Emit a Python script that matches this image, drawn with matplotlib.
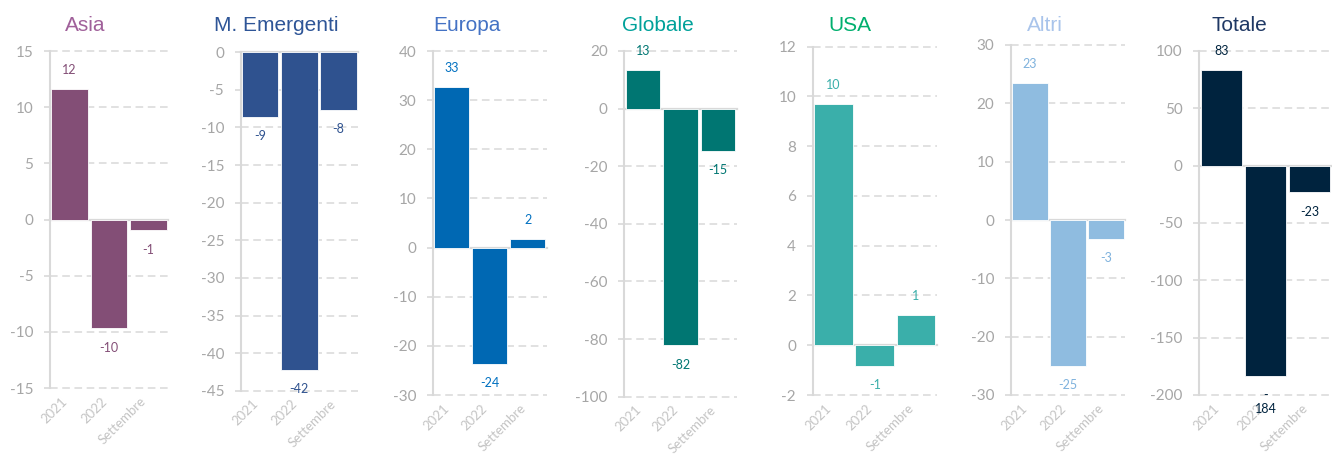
import matplotlib
matplotlib.use("Agg")
import matplotlib.pyplot as plt
import numpy as np

plt.rcParams["axes.unicode_minus"] = False

# data
categories = ["2021", "2022", "Settembre"]
titles = ["Asia", "M. Emergenti", "Europa", "Globale", "USA", "Altri", "Totale"]
asia = [11.6, -9.7, -0.97]
m_emergenti = [-8.6, -42.2, -7.7]
europa = [32.6, -23.7, 1.7]
globale = [13.4, -82.2, -14.6]
usa = [9.7, -0.82, 1.2]
altri = [23.4, -25.0, -3.2]
totale = [83.4, -183.6, -23.4]
series = [asia, m_emergenti, europa, globale, usa, altri, totale]

# y axis (min, max, step) per panel
yscales = [(-15, 15, 5), (-45, 0, 5), (-30, 40, 10), (-100, 20, 20),
           (-2, 12, 2), (-30, 30, 10), (-200, 100, 50)]

bar_colors = ["#834E76", "#2F528F", "#0068B3", "#007672", "#3AAFAA", "#8FBCE0", "#00233E"]
title_colors = ["#A0609A", "#2E5597", "#4472C4", "#00A19A", "#00AF6E", "#A9C4EB", "#1F3864"]
label_colors = ["#834E76", "#2F528F", "#0070C0", "#007672", "#3AAFAA", "#7FB2DD", "#00233E"]

# axes boxes in pixels: left, right, top, bottom
boxes = [(50, 168, 51, 388), (240.7, 358, 52.3, 390.7), (432.7, 546.7, 51, 395),
         (624.3, 736.7, 51, 396.7), (812.7, 936.7, 46.7, 395), (1011, 1125, 45, 395),
         (1199.3, 1331.7, 51, 395)]

W, H = 1332, 461
grid_c = "#D9D9D9"


def fmt(v):
    n = int(np.floor(abs(v) + 0.5))
    s = ("-" if v < 0 else "") + str(n)
    if len(s) > 3:          # excel wraps the long label
        s = "-\n" + str(n)
    return s


fig = plt.figure(figsize=(W / 100, H / 100), dpi=100)

for k in range(len(titles)):
    l, r, t, b = boxes[k]
    ax = fig.add_axes([l / W, 1 - b / H, (r - l) / W, (b - t) / H])
    vals = series[k]
    lo, hi, step = yscales[k]
    x = np.arange(len(categories))

    ax.bar(x, vals, width=0.93, color=bar_colors[k], edgecolor="white", linewidth=0.6, zorder=3)
    ax.set_xlim(-0.5, 2.5)
    ax.set_ylim(lo, hi)
    ticks = np.arange(lo, hi + step / 2, step)
    ax.set_yticks(ticks)
    for tk in ticks:
        if tk != 0:
            ax.axhline(tk, color=grid_c, lw=1.1, ls=(0, (5, 3)), zorder=1, clip_on=False)
    ax.axhline(0, color=grid_c, lw=1.6, zorder=2, clip_on=False)

    for sp in ["top", "right", "bottom"]:
        ax.spines[sp].set_visible(False)
    ax.spines["left"].set_color(grid_c)
    ax.spines["left"].set_linewidth(1.5)

    ax.tick_params(axis="y", length=4, width=1.2, color=grid_c, labelsize=11,
                   labelcolor="#A6A6A6", pad=8)
    ax.tick_params(axis="x", length=0, labelsize=9.5, labelcolor="#C4C4C4", pad=5)
    ax.set_xticks(x)
    ax.set_xticklabels(categories, rotation=45, ha="right", family="Lato")
    for lab in ax.get_yticklabels():
        lab.set_family("Lato")

    for i, v in enumerate(vals):
        ax.annotate(fmt(v), (i, v), xytext=(0, 9.5 if v >= 0 else -9.5),
                    textcoords="offset points", ha="center",
                    va="bottom" if v >= 0 else "top", fontsize=9,
                    color=label_colors[k], family="Lato")

    fig.text((l + 0.3 * (r - l)) / W, 1 - 31 / H, titles[k], ha="center", va="baseline",
             fontsize=15, color=title_colors[k], family="Liberation Sans")

fig.savefig("out.png", dpi=100)
